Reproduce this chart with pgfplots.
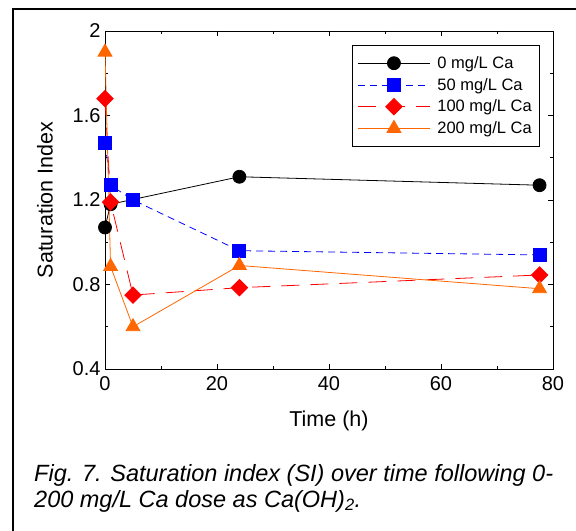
\documentclass[border=0pt]{standalone}
\usepackage{fontspec}
\setmainfont{Liberation Sans}
\usepackage{pgfplots}
\pgfplotsset{compat=1.18}

\definecolor{c0}{HTML}{000000}
\definecolor{c1}{HTML}{0000FF}
\definecolor{c2}{HTML}{FF0000}
\definecolor{c3}{HTML}{FF6600}

\begin{document}
\begin{tikzpicture}
\useasboundingbox (0,0) rectangle (576bp,531bp);
% outer frame (left and top edges only are visible)
\draw[line width=2bp] (13bp,0) -- (13bp,522bp) -- (577bp,522bp);
\begin{axis}[at={(105bp,162bp)},anchor=south west,scale only axis,
  width=448bp,height=338bp,
  xmin=0,xmax=80,ymin=0.4,ymax=2,
  xtick={0,20,...,80},ytick={0.4,0.8,...,2.01},
  minor x tick num=1,minor y tick num=1,
  tick align=inside,major tick length=5bp,minor tick length=3bp,
  axis line style={line width=0.8bp},
  tick style={line width=0.6bp,black},
  /pgf/number format/assume math mode=true,
  tick label style={font=\fontsize{20bp}{24bp}\selectfont},
  xticklabel style={yshift=-4bp},
  yticklabel style={xshift=-1bp},
  xlabel={Time (h)},ylabel={Saturation Index},
  label style={font=\fontsize{21.5bp}{25bp}\selectfont},
  xlabel style={at={(axis description cs:0.5,0)},anchor=center,yshift=-52bp},
  ylabel style={at={(axis description cs:0,0.5)},anchor=center,rotate=0,yshift=60bp},
  legend style={at={(0.969,0.958)},anchor=north east,draw=black,line width=0.6bp,
    font=\fontsize{16.5bp}{19bp}\selectfont,cells={anchor=west},
    row sep=4.3bp,inner xsep=5bp,inner ysep=9bp},
  legend image code/.code={\draw[mark repeat=2,mark phase=2] plot coordinates {(0bp,0bp) (36bp,0bp) (72bp,0bp)};
    \path (77bp,0bp);},
]
\addplot[c0,line width=0.8bp,mark=*,mark size=6.5bp,mark options={solid,fill=c0}]
  coordinates {(0,1.07) (1,1.18) (24,1.31) (77.6,1.27)};
\addlegendentry{0 mg/L Ca}
\addplot[c1,line width=0.8bp,dash pattern=on 7bp off 5bp,mark=square*,mark size=6.5bp,mark options={solid,fill=c1}]
  coordinates {(0,1.47) (1,1.27) (5,1.20) (24,0.96) (77.6,0.94)};
\addlegendentry{50 mg/L Ca}
\addplot[c2,line width=0.8bp,dash pattern=on 18bp off 11bp,mark=square*,mark size=5.8bp,mark options={solid,fill=c2,rotate=45}]
  coordinates {(0,1.68) (1,1.19) (5,0.75) (24,0.785) (77.6,0.845)};
\addlegendentry{100 mg/L Ca}
\addplot[c3,line width=0.8bp,mark=triangle*,mark size=8bp,mark options={solid,fill=c3}]
  coordinates {(0,1.90) (1,0.885) (5,0.60) (24,0.89) (77.6,0.78)};
\addlegendentry{200 mg/L Ca}
\end{axis}
\node[anchor=base west,inner sep=0,font=\fontsize{23.5bp}{28bp}\selectfont\itshape] at (34bp,49.5bp)
  {Fig. 7. Saturation index (SI) over time following 0-};
\node[anchor=base west,inner sep=0,font=\fontsize{23.5bp}{28bp}\selectfont\itshape] at (34bp,24bp)
  {200 mg/L Ca dose as Ca(OH)\textsubscript{2}.};
\end{tikzpicture}
\end{document}
